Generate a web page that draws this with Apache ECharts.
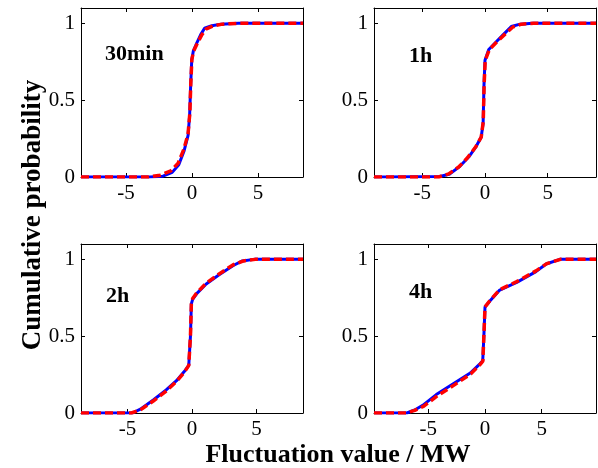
<!DOCTYPE html>
<html>
<head>
<meta charset="utf-8">
<script src="https://cdn.jsdelivr.net/npm/echarts@6/dist/echarts.min.js"></script>
<style>html,body{margin:0;padding:0;background:#fff;}#c{width:598px;height:468px;}</style>
</head>
<body>
<div id="c"></div>
<script>
// Panel labels and axis extents
const panelLabels = ['30min', '1h', '2h', '4h'];
const xLimits = [8.4, 8.86, 8.6, 9.8];
const xTickValues = [-5, 0, 5];
const yTickValues = [0, 0.5, 1];

// 30 min
const b30x = [-8.4, -3.2, -2.2, -1.5, -1.0, -0.6, -0.3, -0.18, -0.1, -0.02, 0.1, 0.35, 0.65, 0.95, 1.5, 2.2, 3.5, 8.4];
const b30y = [0, 0, 0.005, 0.03, 0.08, 0.17, 0.27, 0.4, 0.6, 0.76, 0.82, 0.87, 0.925, 0.968, 0.985, 0.995, 1, 1];
const r30x = [-8.4, -3.3, -2.4, -1.6, -1.05, -0.62, -0.3, -0.16, -0.09, -0.01, 0.12, 0.4, 0.72, 1.05, 1.6, 2.3, 3.6, 8.4];
const r30y = [0, 0, 0.012, 0.04, 0.09, 0.18, 0.28, 0.42, 0.61, 0.765, 0.82, 0.87, 0.922, 0.962, 0.983, 0.995, 1, 1];

// 1 h
const b1x = [-8.86, -7.9, -7.8, -3.6, -2.8, -2.0, -1.3, -0.7, -0.3, -0.15, -0.08, 0.0, 0.3, 0.9, 1.5, 2.1, 2.8, 3.8, 8.86];
const b1y = [0, 0, 0.003, 0.003, 0.02, 0.07, 0.13, 0.2, 0.26, 0.35, 0.6, 0.76, 0.83, 0.88, 0.93, 0.98, 0.995, 1, 1];
const r1x = [-8.86, -3.7, -2.9, -2.1, -1.4, -0.75, -0.3, -0.14, -0.07, 0.02, 0.35, 0.95, 1.6, 2.2, 2.9, 3.9, 8.86];
const r1y = [0, 0, 0.02, 0.065, 0.125, 0.195, 0.26, 0.36, 0.6, 0.76, 0.83, 0.88, 0.93, 0.975, 0.995, 1, 1];

// 2 h
const b2x = [-8.6, -4.6, -4.0, -3.0, -2.0, -1.2, -0.6, -0.25, -0.12, -0.05, 0.05, 0.4, 1.1, 2.1, 3.2, 3.9, 4.8, 8.6];
const b2y = [0, 0, 0.025, 0.085, 0.15, 0.21, 0.27, 0.31, 0.5, 0.71, 0.74, 0.78, 0.84, 0.9, 0.96, 0.99, 1, 1];
const r2x = [-8.6, -4.7, -4.0, -3.0, -2.0, -1.2, -0.6, -0.25, -0.12, -0.05, 0.05, 0.4, 1.1, 2.1, 3.2, 4.0, 4.9, 8.6];
const r2y = [0, 0, 0.02, 0.078, 0.143, 0.205, 0.265, 0.31, 0.5, 0.71, 0.745, 0.785, 0.845, 0.905, 0.965, 0.99, 1, 1];

// 4 h
const b4x = [-9.8, -6.9, -6.2, -5.5, -4.3, -2.8, -1.3, -0.45, -0.2, -0.1, 0.0, 0.45, 1.3, 2.8, 4.5, 5.4, 6.6, 9.8];
const b4y = [0, 0, 0.02, 0.05, 0.12, 0.19, 0.26, 0.32, 0.34, 0.5, 0.69, 0.73, 0.8, 0.85, 0.92, 0.97, 1, 1];
const r4x = [-9.8, -6.95, -6.2, -5.4, -4.2, -2.7, -1.25, -0.42, -0.19, -0.1, 0.0, 0.45, 1.3, 2.8, 4.5, 5.45, 6.65, 9.8];
const r4y = [0, 0, 0.017, 0.045, 0.112, 0.183, 0.255, 0.317, 0.337, 0.5, 0.69, 0.733, 0.803, 0.855, 0.925, 0.972, 1, 1];

const blueX = [b30x, b1x, b2x, b4x];
const blueY = [b30y, b1y, b2y, b4y];
const redX = [r30x, r1x, r2x, r4x];
const redY = [r30y, r1y, r2y, r4y];

const FONT = '"Liberation Serif", "Times New Roman", serif';
const grids = [
  {left: 81, top: 8, width: 222, height: 169},
  {left: 374, top: 8, width: 222, height: 169},
  {left: 81, top: 244, width: 222, height: 169},
  {left: 374, top: 244, width: 222, height: 169}
];
const labelPos = [[105, 55], [409, 57], [106, 297], [409, 293]];

const xAxes = [], yAxes = [], series = [], graphics = [];
const lineStyle = {color: '#000', width: 1};
for (let i = 0; i < 4; i++) {
  const lim = xLimits[i];
  xAxes.push({
    type: 'value', gridIndex: i, min: -lim, max: lim, position: 'bottom',
    axisLine: {show: true, onZero: false, lineStyle},
    axisTick: {show: true, inside: true, length: 4, customValues: xTickValues, lineStyle},
    axisLabel: {show: true, customValues: xTickValues, margin: 6, color: '#000', fontFamily: FONT, fontSize: 21,
      formatter: v => String(v)},
    splitLine: {show: false}
  });
  xAxes.push({
    type: 'value', gridIndex: i, min: -lim, max: lim, position: 'top',
    axisLine: {show: true, onZero: false, lineStyle},
    axisTick: {show: true, inside: true, length: 4, customValues: xTickValues, lineStyle},
    axisLabel: {show: false},
    splitLine: {show: false}
  });
  yAxes.push({
    type: 'value', gridIndex: i, min: 0, max: 1.1, position: 'left',
    axisLine: {show: true, onZero: false, lineStyle},
    axisTick: {show: true, inside: true, length: 4, customValues: yTickValues, lineStyle},
    axisLabel: {show: true, customValues: yTickValues, margin: 6, color: '#000', fontFamily: FONT, fontSize: 21,
      formatter: v => String(v)},
    splitLine: {show: false}
  });
  yAxes.push({
    type: 'value', gridIndex: i, min: 0, max: 1.1, position: 'right',
    axisLine: {show: true, onZero: false, lineStyle},
    axisTick: {show: true, inside: true, length: 4, customValues: yTickValues, lineStyle},
    axisLabel: {show: false},
    splitLine: {show: false}
  });
  series.push({
    type: 'line', xAxisIndex: 2 * i, yAxisIndex: 2 * i, symbol: 'none', smooth: false,
    lineStyle: {color: '#0000ff', width: 3}, z: 2,
    data: blueX[i].map((x, k) => [x, blueY[i][k]])
  });
  series.push({
    type: 'line', xAxisIndex: 2 * i, yAxisIndex: 2 * i, symbol: 'none', smooth: false,
    lineStyle: {color: '#ff0000', width: 3.5, type: [8, 4]}, z: 3,
    data: redX[i].map((x, k) => [x, redY[i][k]])
  });
  graphics.push({
    type: 'text', left: labelPos[i][0], top: labelPos[i][1] - 12,
    style: {text: panelLabels[i], fill: '#000', font: 'bold 22px ' + FONT}
  });
}
graphics.push({
  type: 'text', x: 33, y: 215, rotation: Math.PI / 2,
  style: {text: 'Cumulative probability', fill: '#000', font: 'bold 27px ' + FONT, textAlign: 'center', textVerticalAlign: 'middle'}
});
graphics.push({
  type: 'text', x: 338, y: 455,
  style: {text: 'Fluctuation value / MW', fill: '#000', font: 'bold 26px ' + FONT, textAlign: 'center', textVerticalAlign: 'middle'}
});

const chart = echarts.init(document.getElementById('c'), null, {renderer: 'canvas'});
chart.setOption({
  animation: false,
  backgroundColor: '#fff',
  grid: grids,
  xAxis: xAxes,
  yAxis: yAxes,
  series: series,
  graphic: graphics
});
</script>
</body>
</html>
